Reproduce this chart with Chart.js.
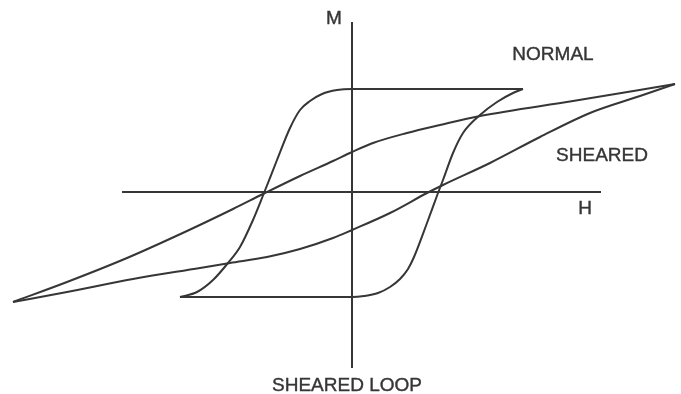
<!DOCTYPE html>
<html>
<head>
<meta charset="utf-8">
<script src="https://cdn.jsdelivr.net/npm/chart.js@4"></script>
<style>
  html, body { margin: 0; padding: 0; background: #fff; }
  #wrap { width: 681px; height: 394px; position: relative; }
</style>
</head>
<body>
<div id="wrap"><canvas id="loop-chart"></canvas></div>
<script>
// Normal loop, descending branch (listed by increasing H)
const normalDownH = [-172, -155, -139, -124, -112, -99, -88, -75, -62, -52, -42, -30, -15, 0, 171];
const normalDownM = [-105, -100, -88, -71, -55, -28, -1, 32, 64, 82, 91, 98, 102, 103, 103];
// Normal loop, ascending branch
const normalUpH = [-172, 0, 12, 26, 38, 48, 56, 62, 75, 86, 91, 101, 111, 128, 145, 161, 171];
const normalUpM = [-105, -105, -104, -101, -95, -87, -77, -65, -31, -1, 12, 39, 59, 77, 90, 99, 103];

// Sheared loop, upper and lower branches
const shearedDownH = [-339, -285, -225, -165, -119, -89, -52, -19, 0, 21, 55, 88, 128, 221, 323];
const shearedDownM = [-110, -90, -66, -39, -17, -2, 16, 31, 40, 49, 59, 67, 76, 91, 108];
const shearedUpH = [-339, -285, -219, -152, -122, -85, -52, -19, 0, 38, 75, 91, 138, 188, 238, 288, 323];
const shearedUpM = [-110, -100, -87, -76, -71, -65, -57, -46, -38, -21, -1, 7, 29, 55, 79, 96, 108];

// Axis extents
const axisH = [-230, 249];
const axisM = [170, -176];

const labelTexts = ["M", "H", "NORMAL", "SHEARED", "SHEARED LOOP"];

const ink = "#363636";

function toPoints(xs, ys) {
  return xs.map((x, i) => ({ x: x, y: ys[i] }));
}

function curve(xs, ys) {
  return {
    data: toPoints(xs, ys),
    showLine: true,
    borderColor: ink,
    borderWidth: 2,
    pointRadius: 0,
    cubicInterpolationMode: "monotone",
    fill: false
  };
}

function straight(points) {
  return {
    data: points,
    showLine: true,
    borderColor: ink,
    borderWidth: 2,
    pointRadius: 0,
    tension: 0,
    fill: false
  };
}

// text labels placed in data units
const labelPlugin = {
  id: "loopLabels",
  afterDatasetsDraw(chart) {
    const { ctx, scales } = chart;
    const spots = [[-18, 173], [233, -17], [201, 137], [250, 36], [-5, -194]];
    ctx.save();
    ctx.fillStyle = ink;
    ctx.strokeStyle = ink;
    ctx.lineWidth = 0.4;
    ctx.font = "19px 'Liberation Sans', Arial, sans-serif";
    ctx.textAlign = "center";
    ctx.textBaseline = "middle";
    labelTexts.forEach((t, i) => {
      const [h, m] = spots[i];
      const px = scales.x.getPixelForValue(h);
      const py = scales.y.getPixelForValue(m);
      ctx.fillText(t, px, py);
      ctx.strokeText(t, px, py);
    });
    ctx.restore();
  }
};

new Chart(document.getElementById("loop-chart").getContext("2d"), {
  type: "scatter",
  data: {
    datasets: [
      straight([{ x: 0, y: axisM[0] }, { x: 0, y: axisM[1] }]),
      straight([{ x: axisH[0], y: 0 }, { x: axisH[1], y: 0 }]),
      curve(normalDownH, normalDownM),
      curve(normalUpH, normalUpM),
      curve(shearedDownH, shearedDownM),
      curve(shearedUpH, shearedUpM)
    ]
  },
  options: {
    responsive: true,
    maintainAspectRatio: false,
    animation: false,
    layout: { padding: 0 },
    plugins: { legend: { display: false }, tooltip: { enabled: false } },
    scales: {
      x: { type: "linear", min: -352, max: 329, display: false },
      y: { type: "linear", min: -202, max: 192, display: false }
    }
  },
  plugins: [labelPlugin]
});
</script>
</body>
</html>
